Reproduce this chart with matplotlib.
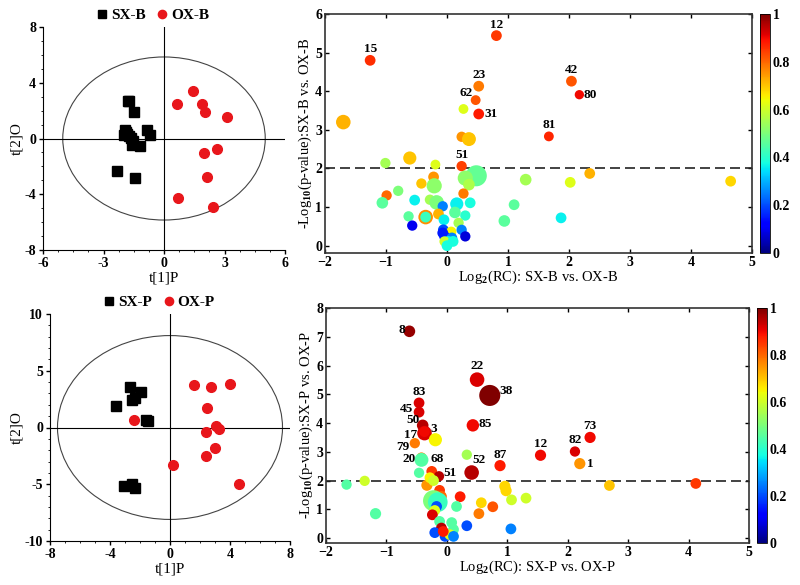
import numpy as np
import matplotlib
matplotlib.use("Agg")
import matplotlib.pyplot as plt
from matplotlib.patches import Ellipse

plt.rcParams['font.family'] = 'Liberation Serif'
plt.rcParams['font.weight'] = 'bold'
plt.rcParams['mathtext.fontset'] = 'custom'
plt.rcParams['mathtext.rm'] = 'Liberation Serif:bold'
plt.rcParams['mathtext.default'] = 'rm'

# ---- score plot data (B) ----
sxb_x = [-1.77, -1.72, -1.47, -1.94, -2.0, -1.85, -1.75, -1.65, -1.6, -1.52, -1.19, -0.86, -0.7, -2.35, -1.44, -1.9]
sxb_y = [2.66, 2.7, 1.89, 0.62, 0.26, 0.35, 0.15, 0.05, -0.5, -0.2, -0.57, 0.62, 0.26, -2.3, -2.8, 0.45]
oxb_x = [1.46, 0.66, 1.87, 2.04, 3.11, 2.62, 1.99, 2.12, 0.71, 2.42]
oxb_y = [3.43, 2.49, 2.49, 1.87, 1.51, -0.74, -1.03, -2.75, -4.24, -4.91]

# ---- score plot data (P) ----
sxp_x = [-2.66, -2.54, -2.32, -1.96, -3.62, -1.58, -1.47, -3.06, -2.52, -2.32]
sxp_y = [3.53, 2.44, 2.59, 3.12, 1.88, 0.68, 0.53, -5.12, -4.94, -5.29]
oxp_x = [-2.37, 1.61, 2.72, 4.02, 2.48, 3.08, 3.28, 2.41, 2.99, 2.39, 0.22, 4.62]
oxp_y = [0.68, 3.71, 3.56, 3.79, 1.74, 0.12, -0.12, -0.38, -1.82, -2.5, -3.32, -4.94]

# ---- volcano data (B) ----
b_lab = ['15', '12', '23', '62', '31', '42', '80', '81', '51']
b_x = [-1.26, 0.81, 0.52, 0.47, 0.52, 2.04, 2.17, 1.67, 0.24,
       -1.70, 0.27, 0.24, 0.36, -0.61, -1.01, -0.19, 0.48, 0.30, 0.36,
       -0.22, -0.21, -0.42, -0.80, -0.99, -1.06, -0.53, -0.28, -0.17, -0.07,
       0.16, 0.38, 0.27, 0.13, -0.14, -0.35, -0.35, -0.63, -0.57, 0.30,
       -0.05, 0.19, 1.10, 1.29, 0.94, 1.87, 2.02, 2.34, 4.65,
       -0.06, 0.07, -0.07, -0.04, 0.08, 0.02, -0.04, 0.0, 0.24, 0.30, 0.10]
b_y = [4.80, 5.44, 4.13, 3.77, 3.41, 4.26, 3.91, 2.83, 2.06,
       3.20, 3.54, 2.82, 2.76, 2.27, 2.14, 2.10, 1.81, 1.75, 1.58,
       1.78, 1.55, 1.61, 1.42, 1.30, 1.11, 1.18, 1.19, 1.12, 1.02,
       1.08, 1.11, 1.35, 0.86, 0.82, 0.74, 0.74, 0.76, 0.52, 0.78,
       0.67, 0.59, 1.06, 1.71, 0.64, 0.72, 1.64, 1.87, 1.67,
       0.41, 0.36, 0.33, 0.24, 0.20, 0.11, 0.11, 0.0, 0.41, 0.24, 0.11]
b_c = [0.86, 0.85, 0.78, 0.82, 0.88, 0.82, 0.90, 0.87, 0.84,
       0.72, 0.62, 0.75, 0.70, 0.70, 0.55, 0.62, 0.47, 0.52, 0.56,
       0.75, 0.52, 0.70, 0.50, 0.80, 0.46, 0.36, 0.55, 0.50, 0.25,
       0.36, 0.38, 0.78, 0.46, 0.72, 0.76, 0.42, 0.46, 0.10, 0.40,
       0.36, 0.55, 0.46, 0.55, 0.46, 0.36, 0.62, 0.72, 0.68,
       0.20, 0.65, 0.15, 0.15, 0.25, 0.36, 0.60, 0.38, 0.25, 0.08, 0.38]
b_s = [60, 60, 60, 50, 60, 60, 45, 50, 55,
       110, 50, 55, 100, 90, 55, 50, 230, 120, 70,
       60, 120, 55, 55, 55, 70, 60, 55, 110, 55,
       90, 60, 55, 70, 60, 110, 60, 55, 55, 55,
       60, 55, 60, 70, 70, 60, 60, 60, 60,
       60, 55, 60, 60, 60, 60, 55, 60, 55, 55, 60]

# ---- volcano data (P) ----
p_lab = ['8', '22', '38', '83', '45', '50', '3', '17', '79', '20', '68', '51', '52', '87', '12', '82', '73', '1', '85']
p_x = [-0.62, 0.50, 0.71, -0.46, -0.46, -0.40, -0.37, -0.37, -0.53, -0.42, -0.25, -0.13, 0.41, 0.88, 1.55, 2.12, 2.37, 2.20, 0.43,
       -0.19, -0.42, 0.33, -0.46, -1.36, -1.66, -1.18, -0.33, -0.28, -0.22,
       -0.12, -0.09, -0.22, -0.15, -0.17, -0.20, -0.24, 0.22, 0.16, 0.57,
       0.76, 0.53, 0.96, 0.98, 1.07, 1.31, 2.69, 4.12, 0.33, 1.06,
       -0.12, 0.08, 0.11, -0.09, -0.20, -0.03, 0.05, 0.11, -0.06]
p_y = [7.19, 5.51, 4.96, 4.70, 4.38, 3.92, 3.65, 3.70, 3.30, 2.80, 2.32, 2.15, 2.28, 2.52, 2.88, 3.01, 3.50, 2.59, 3.92,
       3.42, 2.72, 2.90, 2.27, 1.99, 1.86, 0.85, 1.84, 2.10, 2.00,
       1.66, 1.45, 1.30, 1.25, 1.10, 0.96, 0.81, 1.44, 1.10, 1.23,
       1.09, 0.85, 1.80, 1.65, 1.33, 1.39, 1.83, 1.90, 0.43, 0.32,
       0.58, 0.54, 0.30, 0.35, 0.19, 0.06, 0.12, 0.06, 0.23]
p_c = [0.98, 0.92, 1.00, 0.92, 0.92, 0.95, 0.92, 0.90, 0.78, 0.78, 0.85, 0.95, 0.95, 0.88, 0.90, 0.92, 0.90, 0.75, 0.90,
       0.65, 0.45, 0.55, 0.45, 0.60, 0.45, 0.45, 0.75, 0.65, 0.60,
       0.85, 0.80, 0.50, 0.42, 0.20, 0.62, 0.92, 0.88, 0.45, 0.68,
       0.82, 0.78, 0.68, 0.68, 0.60, 0.60, 0.70, 0.85, 0.20, 0.25,
       0.45, 0.45, 0.45, 0.95, 0.20, 0.20, 0.62, 0.25, 0.88]
p_s = [70, 110, 230, 60, 60, 70, 110, 60, 55, 55, 60, 55, 110, 65, 65, 55, 65, 65, 80,
       90, 100, 55, 55, 55, 55, 65, 65, 60, 60,
       60, 60, 230, 200, 60, 60, 60, 60, 60, 60,
       60, 60, 65, 65, 60, 60, 60, 60, 60, 60,
       60, 60, 60, 60, 60, 60, 60, 60, 60]

fig = plt.figure(figsize=(8, 5.85), dpi=100)


def px(l, r, t, b):
    return [l / 800, 1 - b / 585, (r - l) / 800, (b - t) / 585]


def score_plot(rect, sx, sy, ox, oy, names, lim, ticks, ew, eh):
    ax = fig.add_axes(rect)
    ax.add_patch(Ellipse((0, 0), 2 * ew, 2 * eh, fill=False, ec='#444444', lw=0.8))
    ax.axhline(0, color='black', lw=0.8)
    ax.axvline(0, color='black', lw=0.8)
    ax.plot(sx, sy, 's', color='black', ms=6.5, label=names[0], ls='none')
    ax.plot(ox, oy, 'o', color='#e8161b', ms=7, label=names[1], ls='none')
    ax.set_xlim(lim[0])
    ax.set_ylim(lim[1])
    ax.set_xticks(ticks[0])
    ax.set_yticks(ticks[1])
    ax.set_xticklabels([str(t) for t in ticks[0]])
    ax.set_yticklabels([str(t) for t in ticks[1]])
    ax.minorticks_on()
    ax.spines['top'].set_visible(False)
    ax.spines['right'].set_visible(False)
    ax.tick_params(labelsize=10, length=3, width=1, pad=2)
    ax.tick_params(which='minor', length=1.5)
    ax.set_xlabel('t[1]P', fontsize=11, labelpad=1)
    ax.set_ylabel('t[2]O', fontsize=11, labelpad=1)
    ax.legend(loc='lower center', bbox_to_anchor=(0.45, 0.96), ncol=2, frameon=False,
              fontsize=11, handletextpad=0.1, columnspacing=0.6, handlelength=1,
              markerscale=0.85)
    return ax


def volcano(rect, crect, x, y, c, s, labs, ylim, yticks, xlabel, ylabel, offs):
    ax = fig.add_axes(rect)
    sc = ax.scatter(x, y, c=c, s=s, cmap='jet', vmin=0, vmax=1, edgecolors='none', zorder=3)
    ax.axhline(2, color='#222222', ls=(0, (6, 3)), lw=1.2, zorder=2)
    for i, lab in enumerate(labs):
        dx, dy, ha = offs.get(lab, (0, 8, 'center'))
        ax.annotate(lab, (x[i], y[i]), xytext=(dx, dy), textcoords='offset points',
                    ha=ha, va='center', fontsize=9.5, zorder=4)
    ax.set_xlim(-2, 5)
    ax.set_ylim(ylim)
    ax.set_yticks(yticks)
    ax.set_xticks(range(-2, 6))
    ax.tick_params(direction='in', top=True, right=True, labelsize=10, length=3, width=1, pad=2)
    for sp in ax.spines.values():
        sp.set_linewidth(1.2)
        sp.set_color('#333333')
    ax.set_xlabel(xlabel, fontsize=10.5, labelpad=0)
    ax.set_ylabel(ylabel, fontsize=10.5, labelpad=1)
    cax = fig.add_axes(crect)
    cb = fig.colorbar(sc, cax=cax, ticks=[0, 0.2, 0.4, 0.6, 0.8, 1])
    cb.ax.set_yticklabels(['0', '0.2', '0.4', '0.6', '0.8', '1'])
    cb.ax.tick_params(labelsize=10, length=0, pad=2)
    cb.outline.set_linewidth(0.6)
    return ax


score_plot(px(43, 285, 27, 250), sxb_x, sxb_y, oxb_x, oxb_y, ['SX-B', 'OX-B'],
           [(-6, 6), (-8, 8)], [[-6, -3, 0, 3, 6], [-8, -4, 0, 4, 8]], 5.02, 5.85)
score_plot(px(50, 290, 314, 541), sxp_x, sxp_y, oxp_x, oxp_y, ['SX-P', 'OX-P'],
           [(-8, 8), (-10, 10)], [[-8, -4, 0, 4, 8], [-10, -5, 0, 5, 10]], 7.5, 8.1)

offs_b = {'62': (-7, 5, 'center'), '80': (3, 0, 'left'), '31': (4, 0, 'left')}
volcano(px(325, 752, 14, 253), px(760, 770, 14, 253), b_x, b_y, b_c, b_s, b_lab,
        (-0.19, 6), range(0, 7), 'Log$_2$(RC): SX-B vs. OX-B',
        '-Log$_{10}$(p-value):SX-B vs. OX-B', offs_b)

offs_p = {'8': (-3, 1, 'right'), '38': (7, 3, 'left'), '85': (4, 1, 'left'),
          '45': (-4, 2.5, 'right'), '50': (-2, 3.5, 'right'), '3': (4, 3, 'left'),
          '17': (-5, -2.5, 'right'), '79': (-4, -3, 'right'), '20': (-4, -1, 'right'),
          '51': (3, 2, 'left'), '1': (5, 0, 'left'), '68': (4, 9, 'center'),
          '22': (0, 10, 'center'), '52': (5, 9, 'center')}
volcano(px(326, 749, 308, 543), px(757, 767, 308, 543), p_x, p_y, p_c, p_s, p_lab,
        (-0.17, 8), range(0, 9), 'Log$_2$(RC): SX-P vs. OX-P',
        '-Log$_{10}$(p-value):SX-P vs. OX-P', offs_p)

fig.savefig('out.png', dpi=100)
